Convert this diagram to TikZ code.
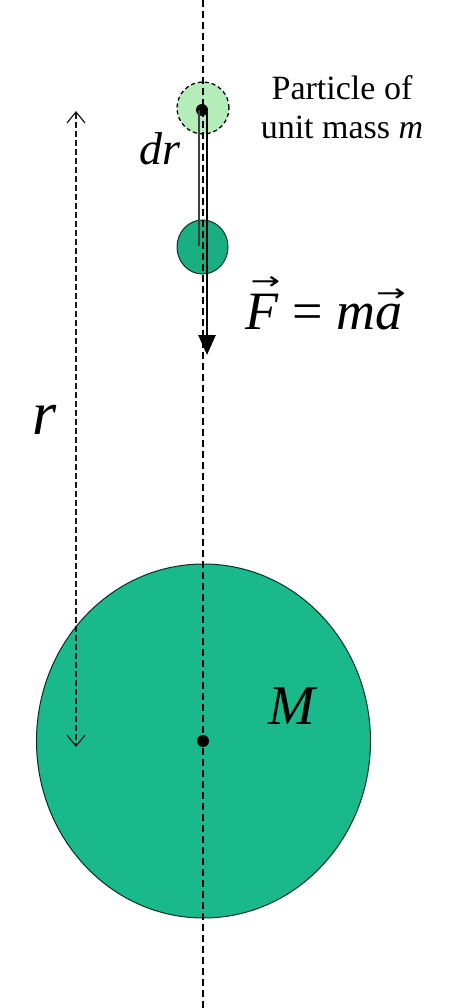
\documentclass[tikz,border=0pt]{standalone}
\usepackage{fontspec}
\setmainfont{Liberation Serif}
\newfontfamily\djv{DejaVu Sans}
\usetikzlibrary{arrows.meta,shapes.geometric}
\definecolor{bigg}{HTML}{19B98B}
\definecolor{smallg}{HTML}{1AAE83}
\definecolor{lightg}{HTML}{B4EDB9}
\newcommand\vecover[3]{\ooalign{#1\cr\hidewidth\kern#3\raisebox{#2}{\djv\upshape\resizebox{0.55em}{0.24em}{→}}\hidewidth\cr}}
\tikzset{
  axisline/.style={dash pattern=on 7pt off 4pt, line width=1.3pt, black},
  rline/.style={dash pattern=on 6pt off 3pt, line width=1.2pt, black!90},
  dotnode/.style={circle, fill=black, inner sep=0pt, minimum size=12pt},
  lbl/.style={inner sep=0pt, font=\itshape}
}
\begin{document}
\begin{tikzpicture}[x=1pt,y=-1pt]
\useasboundingbox (0,0) rectangle (448,1008);
% big mass
\node[ellipse, fill=bigg, draw=black!75!bigg, line width=1pt, minimum width=334pt, minimum height=354pt, inner sep=0pt] (bigM) at (203.5,741) {};
% light dashed particle (initial position)
\node[circle, fill=lightg, draw=black, dash pattern=on 4pt off 3pt, line width=1.3pt, minimum size=52pt, inner sep=0pt] (p0) at (203,108) {};
% moved particle
\node[ellipse, fill=smallg, draw=black!70!smallg, line width=1pt, minimum width=51pt, minimum height=54pt, inner sep=0pt] (p1) at (202.5,247) {};
% vertical axis
\coordinate (axtop) at (203,0);
\coordinate (axbot) at (203,1008);
\draw[axisline] (axtop) -- (axbot);
% dots
\node[dotnode] (pdot) at (202,110) {};
\node[dotnode] (cdot) at (203,741) {};
% dr line and force arrow
\coordinate (drend) at (199,246);
\coordinate (ftop) at (207,112);
\coordinate (ftip) at (207,355);
\draw[line width=2pt, black!75] ([xshift=-3pt]pdot.center) -- (drend);
\draw[line width=2.6pt, -{Triangle[length=20pt,width=17pt]}] (ftop) -- (ftip);
% r arrow
\coordinate (rtop) at (76,111);
\coordinate (rbot) at (76,747);
\draw[rline, {Straight Barb[length=11pt,width=18pt,line width=1.2pt]}-{Straight Barb[length=11pt,width=18pt,line width=1.2pt]}] (rtop) -- (rbot);
% labels
\node[inner sep=0pt, align=center, font=\fontsize{34}{39}\selectfont] (ptext) at (342,107) {Particle of\\unit mass \textit{m}};
\node[lbl, font=\fontsize{46}{46}\selectfont\itshape] (drlbl) at (160,149) {dr};
\node[inner sep=0pt, font=\fontsize{54}{54}\selectfont\itshape] (flbl) at (324,312) {\vecover{F}{0.74em}{0.12em}\ \upshape=\ \itshape m\vecover{a}{0.52em}{0.08em}};
\node[lbl, font=\fontsize{62}{62}\selectfont\itshape] (rlbl) at (45,420) {r};
\node[lbl, font=\fontsize{56}{56}\selectfont\itshape] (Mlbl) at (292,706) {M};
\end{tikzpicture}
\end{document}
